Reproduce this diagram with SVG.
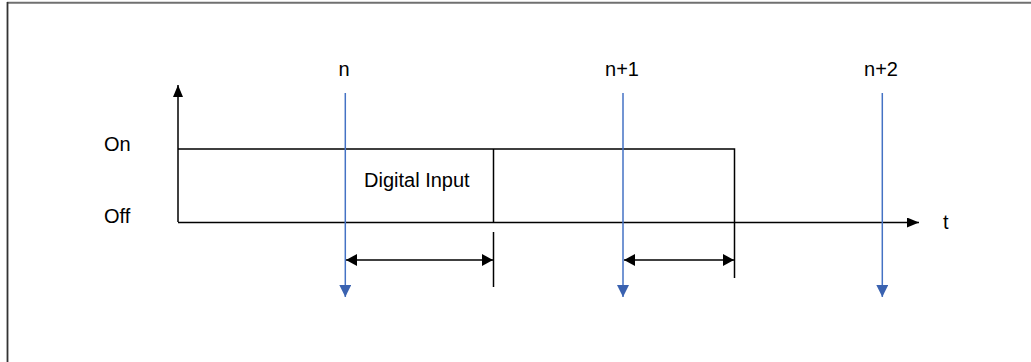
<svg xmlns="http://www.w3.org/2000/svg" width="1031" height="362" viewBox="0 0 1031 362">
<style>
.t{font-family:"Liberation Sans",Arial,sans-serif;font-size:20px;fill:#000}
.k{stroke:#000;stroke-width:1.5;fill:none}
.b{stroke:#4472c4;stroke-width:1.5;fill:none}
</style>
<defs>
<marker id="ak" markerWidth="12" markerHeight="10" refX="12" refY="5" orient="auto" markerUnits="userSpaceOnUse"><path d="M0,0L12,5L0,10z" fill="#000"/></marker>
<marker id="ak2" markerWidth="11" markerHeight="12" refX="11" refY="6" orient="auto-start-reverse" markerUnits="userSpaceOnUse"><path d="M0,0L11,6L0,12z" fill="#000"/></marker>
<marker id="ab" markerWidth="12" markerHeight="12" refX="12" refY="6" orient="auto" markerUnits="userSpaceOnUse"><path d="M0,0L12,6L0,12z" fill="#3a62b0"/></marker>
</defs>
<rect width="1031" height="362" fill="#fff"/>
<g id="frame">
<line x1="7" y1="2.7" x2="1031" y2="2.7" stroke="#707070" stroke-width="2"/>
<line x1="7.5" y1="2" x2="7.5" y2="362" stroke="#333" stroke-width="1.8"/>
</g>
<g id="connectors">
<line class="k" x1="178" y1="222" x2="178" y2="85" marker-end="url(#ak)"/>
<line class="k" x1="178" y1="222.5" x2="919" y2="222.5" marker-end="url(#ak)"/>
<polyline class="k" points="178,149 734.5,149 734.5,278"/>
<line class="k" x1="493.5" y1="149" x2="493.5" y2="222"/>
<line class="k" x1="493.5" y1="232" x2="493.5" y2="287"/>
<line class="k" x1="346" y1="260" x2="493" y2="260" marker-start="url(#ak2)" marker-end="url(#ak2)"/>
<line class="k" x1="624" y1="260" x2="734" y2="260" marker-start="url(#ak2)" marker-end="url(#ak2)"/>
<line class="b" x1="345.3" y1="93" x2="345.3" y2="297" marker-end="url(#ab)"/>
<line class="b" x1="623" y1="93" x2="623" y2="297" marker-end="url(#ab)"/>
<line class="b" x1="882.3" y1="93" x2="882.3" y2="297" marker-end="url(#ab)"/>
</g>
<g id="labels">
<text class="t" x="104" y="151">On</text>
<text class="t" x="104" y="223">Off</text>
<text class="t" x="943" y="229">t</text>
<text class="t" x="344" y="75.5" text-anchor="middle">n</text>
<text class="t" x="622" y="76" text-anchor="middle">n+1</text>
<text class="t" x="881" y="76" text-anchor="middle">n+2</text>
<text class="t" x="364" y="187">Digital Input</text>
</g>
</svg>
